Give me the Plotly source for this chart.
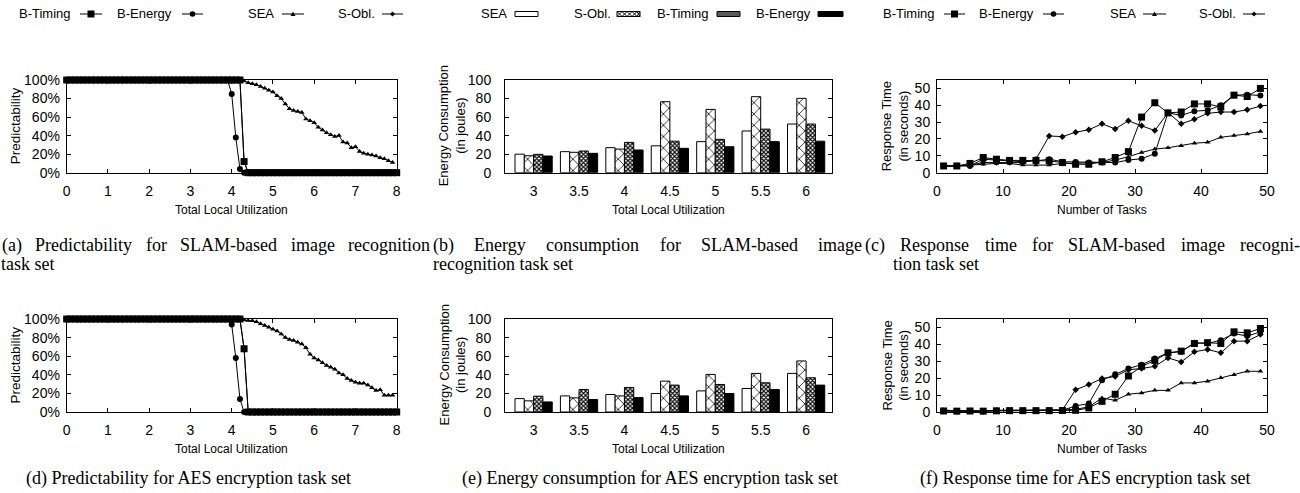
import plotly.graph_objects as go

W, H = 1300, 493

# ---------------- data ----------------
util = [round(0.1 * i, 1) for i in range(81)]  # 0.0 .. 8.0

# (a) SLAM predictability (%)
pred_a_btiming = [100] * 43 + [12] + [0] * 37
pred_a_benergy = [100] * 40 + [85, 38, 4] + [0] * 38
pred_a_sea = [100] * 43 + [99, 97, 96, 95, 93, 91, 89, 87, 83, 80, 74, 69, 67, 66, 65,
                           58, 56, 54, 49, 46, 43, 41, 39, 40, 33, 32, 27, 28, 23, 21, 20,
                           19, 18, 16, 15, 13, 11]
pred_a_sobl = [100] * 43 + [12] + [0] * 37

# (d) AES predictability (%)
pred_d_btiming = [100] * 43 + [68] + [0] * 37
pred_d_benergy = [100] * 40 + [94, 58, 14] + [0] * 38
pred_d_sea = [100] * 43 + [99, 98.5, 98, 97, 95, 93, 91, 89, 87, 84, 80, 78, 77, 75, 73,
                           69, 62, 58, 56, 53, 50, 48, 46, 42, 40, 36, 34, 32, 31, 31, 29,
                           26, 23, 24, 18, 18, 18]
pred_d_sobl = [100] * 43 + [68] + [0] * 37

pct_ticks = [0, 20, 40, 60, 80, 100]
pct_labels = ["0%", "20%", "40%", "60%", "80%", "100%"]

# (b)/(e) energy consumption (joules)
util_cats = ["3", "3.5", "4", "4.5", "5", "5.5", "6"]
en_b_sea = [20, 22.7, 27, 29, 33.5, 45, 52.5]
en_b_sobl = [18.3, 22, 25.5, 76.6, 68.3, 82, 80.2]
en_b_btiming = [19.8, 23.4, 32.7, 34, 36, 47, 52.5]
en_b_benergy = [18, 20.9, 24.5, 26.3, 28, 33.5, 34]

en_e_sea = [14.4, 17.3, 18.8, 19.9, 22.7, 25.3, 41.5]
en_e_sobl = [12, 15.2, 17.3, 33.2, 40.4, 41.5, 54.9]
en_e_btiming = [17, 24.2, 26.4, 28.9, 29.6, 31.4, 36.8]
en_e_benergy = [10.8, 13.4, 15.5, 17.3, 19.9, 24.2, 28.9]

# (c)/(f) response time (seconds)
tasks = [1, 3, 5, 7, 9, 11, 13, 15, 17, 19, 21, 23, 25, 27, 29, 31, 33, 35, 37, 39, 41, 43, 45, 47, 49]
rt_c_btiming = [4, 4, 5.5, 9, 8, 7.3, 7.3, 7.3, 7, 6, 5, 5, 6.5, 9, 12.5, 33, 41.5, 35.5, 36, 40.8, 40.8, 39, 46, 45.2, 50]
rt_c_benergy = [4, 4, 4, 8, 7.5, 6.8, 6.5, 7, 8, 6.5, 6.3, 6, 6, 6, 7.5, 8.3, 11.3, 35.5, 34, 36.5, 37, 40, 46, 46.3, 45.8]
rt_c_sea = [4, 4, 4.5, 5, 5.5, 5.5, 4.5, 4.5, 4.5, 5.5, 5.8, 5.8, 6, 7.5, 9.5, 12, 14, 14.8, 16, 17.5, 18, 21, 22, 23, 24.5]
rt_c_sobl = [4, 4, 4.5, 6, 6, 6, 6, 8, 21.8, 21.4, 24, 25.5, 29, 26, 30.8, 27.8, 25, 35.6, 29, 31.7, 35.2, 36, 36, 37.3, 39.5]

rt_f_btiming = [0.6, 0.5, 0.6, 0.5, 0.7, 0.8, 0.8, 0.8, 0.8, 0.9, 1.0, 2.4, 6.3, 10.5, 21.3, 27, 30.5, 35, 36, 40.5, 41, 40.5, 47.4, 46.8, 49.4]
rt_f_benergy = [0.6, 0.5, 0.6, 0.5, 0.8, 0.8, 0.8, 0.8, 0.9, 1.0, 3.6, 5, 18.8, 22.3, 25.7, 28, 31.6, 35, 35.6, 41, 40.5, 42.5, 46.4, 44.9, 47.4]
rt_f_sea = [1.2, 0.6, 0.7, 0.6, 1.0, 1.0, 0.9, 0.9, 1.0, 1.2, 1.6, 3, 8.3, 6.9, 10.5, 11.3, 12.8, 12.8, 17.2, 17.2, 18.2, 20.2, 22.1, 24.1, 24.1]
rt_f_sobl = [0.8, 0.6, 0.6, 0.5, 0.9, 0.9, 0.8, 0.8, 0.9, 1.2, 13.2, 16.2, 19.8, 21, 25, 25.7, 27, 32, 29.6, 35.6, 37, 35, 41.9, 41.9, 45.8]

series_names = ["B-Timing", "B-Energy", "SEA", "S-Obl."]

captions_top = [
    ("(a) Predictability for SLAM-based image recognition", "task set"),
    ("(b) Energy consumption for SLAM-based image", "recognition task set"),
    ("(c) Response time for SLAM-based image recogni-", "tion task set"),
]
captions_bottom = [
    "(d) Predictability for AES encryption task set",
    "(e) Energy consumption for AES encryption task set",
    "(f) Response time for AES encryption task set",
]

# ---------------- helpers ----------------
def px(x):
    return x / W

def py(y):
    return 1 - y / H

SANS = "Liberation Sans"
SERIF = "Liberation Serif"

fig = go.Figure()

col_x = [(66.7, 396.7), (505, 832), (937, 1267)]
row_y = [(80, 172.7), (319, 412)]

def axname(i, kind):
    return kind if i == 1 else f"{kind}{i}"

line_styles = {
    "B-Timing": ("square", 7),
    "B-Energy": ("circle", 6),
    "SEA": ("triangle-up", 5),
    "S-Obl.": ("diamond", 5),
}

def add_line_panel(idx, x, ys):
    for name, y in zip(series_names, ys):
        sym, sz = line_styles[name]
        fig.add_trace(go.Scatter(
            x=x, y=y, mode="lines+markers", name=name,
            line=dict(color="black", width=1),
            marker=dict(symbol=sym, size=sz, color="black", line=dict(width=0)),
            xaxis=axname(idx, "x"), yaxis=axname(idx, "y"),
            cliponaxis=False, showlegend=False))

bar_order = ["SEA", "S-Obl.", "B-Timing", "B-Energy"]
bar_marker = {
    "SEA": dict(color="white", line=dict(color="black", width=1)),
    "S-Obl.": dict(color="white", line=dict(color="black", width=1),
                   pattern=dict(shape="x", size=8, solidity=0.18, fgcolor="black",
                                bgcolor="white", fillmode="replace")),
    "B-Timing": dict(color="white", line=dict(color="black", width=1),
                     pattern=dict(shape="x", size=3, solidity=0.6, fgcolor="black",
                                  bgcolor="white", fillmode="replace")),
    "B-Energy": dict(color="black", line=dict(color="black", width=1)),
}

def add_bar_panel(idx, ys):
    for name, y in zip(bar_order, ys):
        fig.add_trace(go.Bar(
            x=util_cats, y=y, name=name, marker=bar_marker[name],
            offsetgroup=name, xaxis=axname(idx, "x"), yaxis=axname(idx, "y"),
            showlegend=False))

# panels
add_line_panel(1, util, [pred_a_btiming, pred_a_benergy, pred_a_sea, pred_a_sobl])
add_bar_panel(2, [en_b_sea, en_b_sobl, en_b_btiming, en_b_benergy])
add_line_panel(3, tasks, [rt_c_btiming, rt_c_benergy, rt_c_sea, rt_c_sobl])
add_line_panel(4, util, [pred_d_btiming, pred_d_benergy, pred_d_sea, pred_d_sobl])
add_bar_panel(5, [en_e_sea, en_e_sobl, en_e_btiming, en_e_benergy])
add_line_panel(6, tasks, [rt_f_btiming, rt_f_benergy, rt_f_sea, rt_f_sobl])

common = dict(showline=True, linecolor="black", linewidth=1, mirror="ticks",
              ticks="inside", ticklen=4, tickcolor="black", tickwidth=1,
              showgrid=False, zeroline=False, automargin=False,
              tickfont=dict(family=SANS, size=14, color="black"))

layout_axes = {}
for r in range(2):
    for c in range(3):
        idx = r * 3 + c + 1
        xd = [px(col_x[c][0]), px(col_x[c][1])]
        yd = [py(row_y[r][1]), py(row_y[r][0])]
        xk = "xaxis" if idx == 1 else f"xaxis{idx}"
        yk = "yaxis" if idx == 1 else f"yaxis{idx}"
        xa = dict(common, domain=xd, anchor=axname(idx, "y"), ticklabelstandoff=5)
        ya = dict(common, domain=yd, anchor=axname(idx, "x"))
        if c == 0:
            xa.update(range=[0, 8], tickvals=[0, 1, 2, 3, 4, 5, 6, 7, 8])
            ya.update(range=[0, 100], tickvals=pct_ticks, ticktext=pct_labels,
                      ticklabelstandoff=3)
        elif c == 1:
            xa.update(type="category", range=[-0.63, 6.57], ticks="", mirror=True)
            ya.update(range=[0, 100], tickvals=pct_ticks, ticklabelstandoff=10)
        else:
            xa.update(range=[0, 50], tickvals=[0, 10, 20, 30, 40, 50])
            ya.update(range=[0, 55], tickvals=[0, 10, 20, 30, 40, 50], ticklabelstandoff=3)
        layout_axes[xk] = xa
        layout_axes[yk] = ya

annotations = []
shapes = []

def text(x, y, s, size=13, family=SANS, xanchor="center", angle=0):
    annotations.append(dict(x=px(x), y=py(y), xref="paper", yref="paper", text=s,
                            showarrow=False, xanchor=xanchor, yanchor="middle",
                            textangle=angle, borderpad=0,
                            font=dict(family=family, size=size, color="black")))

# axis titles
for r, (top, bot) in enumerate(row_y):
    mid = (top + bot) / 2
    ty = bot + 37
    text((col_x[0][0] + col_x[0][1]) / 2, ty, "Total Local Utilization", size=12)
    text((col_x[1][0] + col_x[1][1]) / 2, ty, "Total Local Utilization", size=12)
    text((col_x[2][0] + col_x[2][1]) / 2, ty, "Number of Tasks", size=12)
    text(15, mid, "Predictability", size=13.5, angle=-90)
    text(452, mid, "Energy Consumption<br>(in joules)", size=13, angle=-90)
    text(895, mid, "Response Time<br>(in seconds)", size=13, angle=-90)

# legends (gnuplot style: text then sample)
LEG_Y = 14

def marker_shape(sym, cx, cy, s):
    if sym == "square":
        shapes.append(dict(type="rect", xref="paper", yref="paper",
                           x0=px(cx - s), x1=px(cx + s), y0=py(cy + s), y1=py(cy - s),
                           fillcolor="black", line=dict(width=0)))
    elif sym == "circle":
        shapes.append(dict(type="circle", xref="paper", yref="paper",
                           x0=px(cx - s), x1=px(cx + s), y0=py(cy + s), y1=py(cy - s),
                           fillcolor="black", line=dict(width=0)))
    elif sym == "triangle":
        path = (f"M {px(cx)},{py(cy - s)} L {px(cx + s)},{py(cy + s * 0.8)} "
                f"L {px(cx - s)},{py(cy + s * 0.8)} Z")
        shapes.append(dict(type="path", xref="paper", yref="paper", path=path,
                           fillcolor="black", line=dict(width=0)))
    elif sym == "diamond":
        path = (f"M {px(cx)},{py(cy - s)} L {px(cx + s)},{py(cy)} "
                f"L {px(cx)},{py(cy + s)} L {px(cx - s)},{py(cy)} Z")
        shapes.append(dict(type="path", xref="paper", yref="paper", path=path,
                           fillcolor="black", line=dict(width=0)))

line_legend_sets = [
    [(72, 80, 102), (173, 182, 203), (275, 282, 304), (376, 382, 403)],
    [(936, 944, 965), (1035, 1043, 1064), (1137, 1143, 1166), (1237, 1243, 1265)],
]
leg_syms = [("square", 3.5), ("circle", 2.8), ("triangle", 2.5), ("diamond", 2.5)]
for lset in line_legend_sets:
    for name, (tend, l0, l1), (sym, s) in zip(series_names, lset, leg_syms):
        text(tend, LEG_Y, name, size=13, xanchor="right")
        shapes.append(dict(type="line", xref="paper", yref="paper",
                           x0=px(l0), x1=px(l1), y0=py(LEG_Y), y1=py(LEG_Y),
                           line=dict(color="black", width=1)))
        marker_shape(sym, (l0 + l1) / 2, LEG_Y, s)

bar_legend = [(508, 515, 538), (612, 617, 640), (710, 717, 740), (812, 818, 843)]
for name, (tend, b0, b1) in zip(bar_order, bar_legend):
    text(tend, LEG_Y, name, size=13, xanchor="right")
    y0, y1 = LEG_Y - 2.5, LEG_Y + 2.5
    if name == "B-Energy":
        fill = "black"
    elif name == "B-Timing":
        fill = "#5a5a5a"
    else:
        fill = "white"
    shapes.append(dict(type="rect", xref="paper", yref="paper",
                       x0=px(b0), x1=px(b1), y0=py(y1), y1=py(y0),
                       fillcolor=fill, line=dict(color="black", width=1)))
    if name == "S-Obl.":
        segs = []
        x = b0
        while x < b1 - 1:
            xe = min(x + 5, b1)
            segs.append(f"M {px(x)},{py(y0)} L {px(xe)},{py(y1)}")
            segs.append(f"M {px(xe)},{py(y0)} L {px(x)},{py(y1)}")
            x += 5
        shapes.append(dict(type="path", xref="paper", yref="paper", path=" ".join(segs),
                           line=dict(color="black", width=1)))

# captions: first lines justified word by word (Times metrics)
CAP = 18
TIMES_W = {" ": 250, "(": 333, ")": 333, "-": 333, "A": 722, "B": 667, "E": 611,
           "L": 611, "M": 889, "P": 556, "R": 667, "S": 556, "a": 444, "b": 500,
           "c": 444, "d": 500, "e": 444, "f": 333, "g": 500, "i": 278, "k": 500,
           "l": 278, "m": 778, "n": 500, "o": 500, "p": 500, "r": 333, "s": 389,
           "t": 278, "u": 500, "y": 500}

def word_width(w):
    return sum(TIMES_W.get(ch, 500) for ch in w) * CAP / 1000.0

cap1_y, cap2_y = 245, 264
spans = [(1, 429), (432, 861), (864, 1299)]
second_x = [0, 432, 892]
for (line1, line2), (s0, s1), x2 in zip(captions_top, spans, second_x):
    words = line1.split()
    widths = [word_width(w) for w in words]
    gap = (s1 - s0 - sum(widths)) / (len(words) - 1)
    x = s0
    for w, ww in zip(words, widths):
        text(x, cap1_y, w, size=CAP, family=SERIF, xanchor="left")
        x += ww + gap
    text(x2, cap2_y, line2, size=CAP, family=SERIF, xanchor="left")

for cap, cx in zip(captions_bottom, [188, 650, 1085]):
    text(cx, 478, cap, size=CAP, family=SERIF)

fig.update_layout(
    width=W, height=H, margin=dict(l=0, r=0, t=0, b=0, pad=0),
    paper_bgcolor="white", plot_bgcolor="white",
    barmode="group", bargap=0.18, bargroupgap=0,
    showlegend=False, annotations=annotations, shapes=shapes,
    **layout_axes)

fig.write_html(
    "out.html",
    config={"displayModeBar": False},
    post_script="document.body.style.margin='0';document.body.style.padding='0';"
                "document.documentElement.style.overflow='hidden';")
